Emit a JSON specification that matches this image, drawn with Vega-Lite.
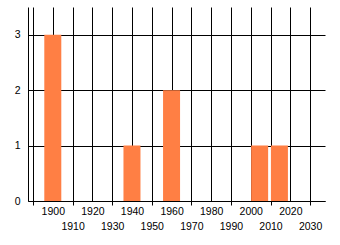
{
  "$schema": "https://vega.github.io/schema/vega-lite/v6.json",
  "autosize": "none",
  "width": 297,
  "height": 194,
  "padding": {"left": 28, "top": 7, "right": 15, "bottom": 44},
  "background": "white",
  "config": {"view": {"stroke": null}, "font": "Liberation Sans"},
  "data": {"values": [
    {"year": 1900, "count": 3},
    {"year": 1940, "count": 1},
    {"year": 1960, "count": 2},
    {"year": 2004.5, "count": 1},
    {"year": 2014.5, "count": 1}
  ]},
  "mark": {"type": "bar", "color": "#FF7F44", "width": 17},
  "encoding": {
    "x": {
      "field": "year", "type": "quantitative",
      "scale": {"domain": [1890, 2035], "nice": false, "zero": false},
      "axis": {
        "title": null,
        "values": [1890, 1900, 1910, 1920, 1930, 1940, 1950, 1960, 1970, 1980, 1990, 2000, 2010, 2020, 2030],
        "format": "d",
        "grid": true, "gridColor": "black", "gridOpacity": 1, "gridWidth": 1,
        "domainColor": "black", "domainWidth": 1,
        "tickSize": 4,
        "tickColor": {"condition": {"test": "datum.value % 20 != 0", "value": "black"}, "value": "transparent"},
        "labelPadding": {"condition": {"test": "datum.value % 20 == 0", "value": 1}, "value": 16},
        "labelFlush": false, "labelOverlap": false,
        "labelExpr": "datum.value == 1890 ? '' : datum.label",
        "labelFont": "Liberation Sans", "labelFontSize": 10.5, "labelColor": "black"
      }
    },
    "y": {
      "field": "count", "type": "quantitative",
      "scale": {"domain": [0, 3.5], "nice": false},
      "axis": {
        "title": null,
        "values": [0, 1, 2, 3],
        "format": "d",
        "grid": true, "gridColor": "black", "gridOpacity": 1, "gridWidth": 1,
        "domainColor": "black", "domainWidth": 1,
        "ticks": false,
        "labelPadding": 8,
        "labelFont": "Liberation Sans", "labelFontSize": 10.5, "labelColor": "black"
      }
    }
  }
}
